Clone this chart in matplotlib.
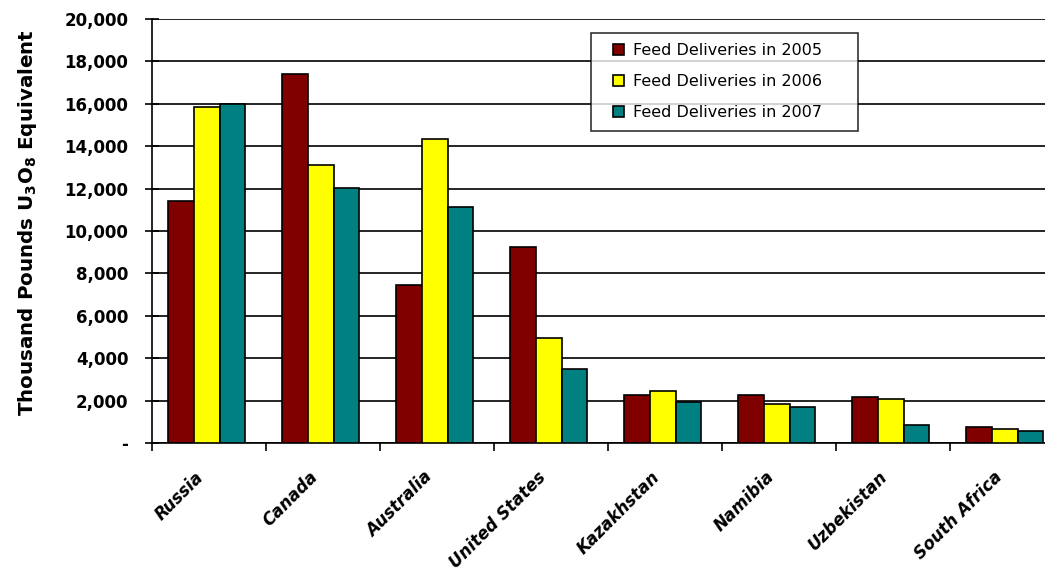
import numpy as np
import matplotlib
matplotlib.use("Agg")
import matplotlib.pyplot as plt
from matplotlib.ticker import FuncFormatter, MultipleLocator
from matplotlib.patches import Rectangle
from matplotlib.legend_handler import HandlerPatch
from matplotlib.container import BarContainer
from matplotlib.transforms import ScaledTranslation

plt.rcParams["font.family"] = ["DejaVu Sans"]
plt.rcParams["mathtext.fontset"] = "dejavusans"

countries = ["Russia", "Canada", "Australia", "United States",
             "Kazakhstan", "Namibia", "Uzbekistan", "South Africa"]
d2005 = [11400, 17400, 7450, 9250, 2280, 2280, 2180, 750]
d2006 = [15850, 13100, 14350, 4950, 2440, 1840, 2060, 640]
d2007 = [16000, 12050, 11130, 3500, 1930, 1700, 830, 560]
series = ["Feed Deliveries in 2005", "Feed Deliveries in 2006", "Feed Deliveries in 2007"]
colors = ["#800000", "#ffff00", "#008080"]

fig = plt.figure(figsize=(10.45, 5.74), dpi=100)
L = 152
ax = fig.add_axes([L/1045, 1-443/574, 1-L/1045, (443-19)/574])

x = np.arange(len(countries))
w = 0.225
for k, (vals, lab, c) in enumerate(zip([d2005, d2006, d2007], series, colors)):
    ax.bar(x - 0.02 + (k-1)*w, vals, w, color=c, edgecolor="black", lw=1.2,
           label=lab + "     ", zorder=3)

ax.set_xticks(x)
ax.set_xticklabels(countries, rotation=45, ha="right", rotation_mode="anchor",
                   fontsize=12, fontweight="bold", fontstyle="italic")
ax.tick_params(axis="x", which="major", length=0, pad=18)
shift = ScaledTranslation(-14/100, 0, fig.dpi_scale_trans)
for t in ax.get_xticklabels():
    t.set_transform(t.get_transform() + shift)
ax.set_xticks(np.arange(-0.5, 8, 1), minor=True)
ax.tick_params(axis="x", which="minor", direction="out", length=6, width=1.2)
# limits after the ticks, so the right edge is cut like in the original
ax.set_xlim(-0.5, -0.5 + (1045-L)/114)
ax.set_ylim(0, 20000)

ax.yaxis.set_major_locator(MultipleLocator(2000))
ax.yaxis.set_major_formatter(FuncFormatter(lambda v, p: "-" if v == 0 else f"{v:,.0f}"))
ax.grid(axis="y", color="black", lw=1.2, zorder=0)
for s in ["top", "right"]:
    ax.spines[s].set_visible(False)
ax.spines["left"].set_linewidth(1.2)
ax.spines["bottom"].set_linewidth(1.2)
ax.tick_params(axis="y", direction="inout", length=10, width=1.2, labelsize=12, pad=12)
for t in ax.get_yticklabels():
    t.set_fontweight("bold")

ax.set_ylabel(r"Thousand Pounds U$_{\mathbf{3}}$O$_{\mathbf{8}}$ Equivalent",
              fontsize=14.3, fontweight="bold")
ax.yaxis.set_label_coords(-0.127, 0.52)


def small_square(legend, orig_handle, xdescent, ydescent, width, height, fontsize):
    s = height * 0.95
    return Rectangle((-xdescent + width - s, -ydescent + (height - s) / 2), s, s)


def from_first_bar(tgt, src):
    tgt.update_from(src.patches[0])


sq = HandlerPatch(patch_func=small_square, update_func=from_first_bar)
leg = ax.legend(loc="upper left", bbox_to_anchor=((591-L)/(1045-L), 1-(33-19)/424),
                frameon=True, fancybox=False, fontsize=11.5, handlelength=1.4,
                handleheight=0.75, handletextpad=0.6, borderpad=0.65, labelspacing=1.0,
                borderaxespad=0, handler_map={BarContainer: sq})
leg.get_frame().set_edgecolor("black")
leg.get_frame().set_linewidth(1.2)
leg.set_zorder(5)

fig.savefig("out.png", dpi=100)
